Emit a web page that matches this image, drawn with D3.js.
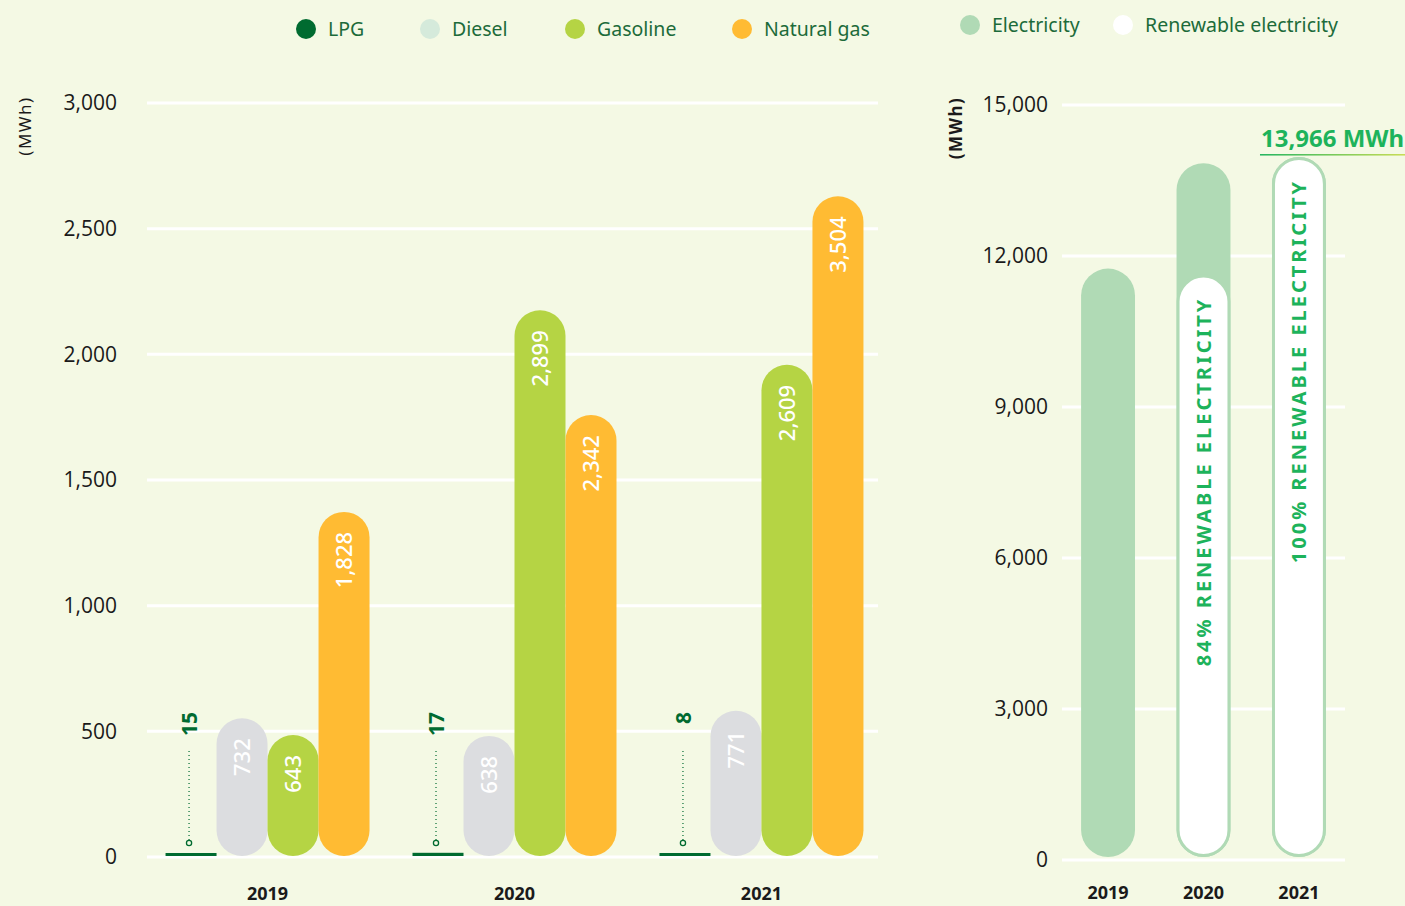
<!DOCTYPE html>
<html>
<head>
<meta charset="utf-8">
<script src="https://cdn.jsdelivr.net/npm/d3@7"></script>
<style>
  body { margin: 0; background: #f4f9e4; }
  svg { display: block; font-family: "Noto Sans", "Open Sans", sans-serif; }
</style>
</head>
<body>
<svg id="chart" width="1405" height="906"></svg>
<script>
// fuel data (MWh)
var years = ["2019", "2020", "2021"];
var fuels = ["LPG", "Diesel", "Gasoline", "Natural gas"];
var lpg = [15, 17, 8];
var diesel = [732, 638, 771];
var gasoline = [643, 2899, 2609];
var naturalGas = [1828, 2342, 3504];
var fuelTicks = [0, 500, 1000, 1500, 2000, 2500, 3000];

// electricity data (MWh)
var electricity = [11750, 13845, 13966];
var renewable = [0, 11630, 13966];
var renewableLabels = ["", "84% RENEWABLE ELECTRICITY", "100% RENEWABLE ELECTRICITY"];
var elecTicks = [0, 3000, 6000, 9000, 12000, 15000];

var fuelColors = { "LPG": "#006b30", "Diesel": "#dcdde0", "Gasoline": "#b5d444", "Natural gas": "#ffbb33" };
var legendColors = { "LPG": "#006b30", "Diesel": "#d5eadb", "Gasoline": "#b5d444", "Natural gas": "#ffbb33" };
var elecColor = "#b0dab5";
var green = "#1db35b";
var textGreen = "#1c6b3a";

var svg = d3.select("#chart");
var fmt = d3.format(",");

// ---------- left chart ----------
var left = { x0: 147, x1: 878, top: 103, bottom: 857 };

var yAxisL = d3.scaleLinear().domain([0, 3000]).range([left.bottom, left.top]);
// bars in the source are drawn on a stretched scale
var yBarL = d3.scaleLinear().domain([0, 4000]).range([left.bottom - 1, left.top]);

var xGroup = d3.scaleBand().domain(years).range([left.x0 + 2, left.x1 + 2])
    .paddingInner(0.174).paddingOuter(0.067);
var xFuel = d3.scaleBand().domain(fuels).range([0, xGroup.bandwidth()]);

var gridL = svg.append("g");
gridL.selectAll("line").data(fuelTicks).enter().append("line")
    .attr("x1", left.x0).attr("x2", left.x1)
    .attr("y1", function(d) { return yAxisL(d); })
    .attr("y2", function(d) { return yAxisL(d); })
    .attr("stroke", "#fff").attr("stroke-width", 3);

var axisL = svg.append("g")
    .attr("transform", "translate(117,0)")
    .call(d3.axisLeft(yAxisL).tickValues(fuelTicks).tickFormat(fmt).tickSize(0).tickPadding(0));
axisL.select(".domain").remove();
axisL.selectAll("text").attr("font-size", 21).attr("fill", "#1a1a1a")
    .attr("font-family", "'Open Sans', sans-serif");

svg.append("text")
    .attr("transform", "translate(31,126) rotate(-90)")
    .attr("text-anchor", "middle")
    .attr("font-size", 17).attr("letter-spacing", 1.5).attr("fill", "#1a1a1a")
    .text("(MWh)");

var rows = [];
years.forEach(function(y, i) {
  rows.push({ year: y, fuel: "LPG", value: lpg[i] });
  rows.push({ year: y, fuel: "Diesel", value: diesel[i] });
  rows.push({ year: y, fuel: "Gasoline", value: gasoline[i] });
  rows.push({ year: y, fuel: "Natural gas", value: naturalGas[i] });
});

var bw = xFuel.bandwidth();
var pills = rows.filter(function(d) { return d.fuel !== "LPG"; });
var lpgRows = rows.filter(function(d) { return d.fuel === "LPG"; });

svg.append("g").selectAll("rect").data(pills).enter().append("rect")
    .attr("x", function(d) { return xGroup(d.year) + xFuel(d.fuel); })
    .attr("y", function(d) { return yBarL(d.value); })
    .attr("width", bw)
    .attr("height", function(d) { return yBarL(0) - yBarL(d.value); })
    .attr("rx", bw / 2)
    .attr("fill", function(d) { return fuelColors[d.fuel]; });

svg.append("g").selectAll("text").data(pills).enter().append("text")
    .attr("transform", function(d) {
      var cx = xGroup(d.year) + xFuel(d.fuel) + bw / 2;
      return "translate(" + cx + "," + (yBarL(d.value) + 20) + ") rotate(-90)";
    })
    .attr("text-anchor", "end").attr("dy", "0.36em")
    .attr("font-size", 22).attr("font-weight", 500).attr("fill", "#fff")
    .text(function(d) { return fmt(d.value); });

// LPG: flat line + pointer + label
var lpgG = svg.append("g").selectAll("g").data(lpgRows).enter().append("g")
    .attr("transform", function(d) { return "translate(" + (xGroup(d.year) + xFuel(d.fuel)) + ",0)"; });
lpgG.append("rect")
    .attr("x", 0).attr("width", bw)
    .attr("y", function(d) { return Math.min(yBarL(d.value), yBarL(0) - 3); })
    .attr("height", function(d) { return Math.max(3, yBarL(0) - yBarL(d.value)); })
    .attr("fill", fuelColors.LPG);
lpgG.append("line")
    .attr("x1", bw / 2 - 2).attr("x2", bw / 2 - 2)
    .attr("y1", yBarL(0) - 16).attr("y2", yBarL(0) - 105)
    .attr("stroke", fuelColors.LPG).attr("stroke-width", 1.2).attr("stroke-dasharray", "1,3");
lpgG.append("circle")
    .attr("cx", bw / 2 - 2).attr("cy", yBarL(0) - 13).attr("r", 2.6)
    .attr("fill", "none").attr("stroke", fuelColors.LPG).attr("stroke-width", 1.3);
lpgG.append("text")
    .attr("transform", "translate(" + (bw / 2 - 2) + "," + (yBarL(0) - 144) + ") rotate(-90)")
    .attr("text-anchor", "end").attr("dy", "0.36em")
    .attr("font-size", 21).attr("font-weight", 700).attr("fill", fuelColors.LPG)
    .text(function(d) { return d.value; });

// x labels
svg.append("g").selectAll("text").data(years).enter().append("text")
    .attr("x", function(d) { return xGroup(d) + xFuel("Gasoline"); })
    .attr("y", 900)
    .attr("text-anchor", "middle").attr("font-size", 18).attr("font-weight", 700).attr("fill", "#1a1a1a")
    .text(function(d) { return d; });

// legend left
var legendX = [306, 430, 575, 742];
var legL = svg.append("g").selectAll("g").data(fuels).enter().append("g")
    .attr("transform", function(d, i) { return "translate(" + legendX[i] + ",29)"; });
legL.append("circle").attr("r", 10).attr("fill", function(d) { return legendColors[d]; });
legL.append("text").attr("x", 22).attr("dy", "0.35em")
    .attr("font-size", 19.5).attr("fill", textGreen).text(function(d) { return d; });

// ---------- right chart ----------
var right = { x0: 1062, x1: 1345, top: 105, bottom: 860 };
var yR = d3.scaleLinear().domain([0, 15000]).range([right.bottom, right.top]);
var xR = d3.scaleBand().domain(years).range([right.x0, right.x1])
    .paddingInner(0.435).paddingOuter(0.2);
var bwR = xR.bandwidth();
var baseR = yR(0) - 3;

svg.append("g").selectAll("line").data(elecTicks).enter().append("line")
    .attr("x1", right.x0).attr("x2", right.x1)
    .attr("y1", function(d) { return yR(d); })
    .attr("y2", function(d) { return yR(d); })
    .attr("stroke", "#fff").attr("stroke-width", 3);

var axisR = svg.append("g")
    .attr("transform", "translate(1048,0)")
    .call(d3.axisLeft(yR).tickValues(elecTicks).tickFormat(fmt).tickSize(0).tickPadding(0));
axisR.select(".domain").remove();
axisR.selectAll("text").attr("font-size", 21).attr("fill", "#1a1a1a")
    .attr("font-family", "'Open Sans', sans-serif");

svg.append("text")
    .attr("transform", "translate(962,128) rotate(-90)")
    .attr("text-anchor", "middle")
    .attr("font-size", 17).attr("font-weight", 700).attr("letter-spacing", 1.5).attr("fill", "#1a1a1a")
    .text("(MWh)");

var elecRows = years.map(function(y, i) {
  return { year: y, total: electricity[i], green: renewable[i], label: renewableLabels[i] };
});

svg.append("g").selectAll("rect").data(elecRows).enter().append("rect")
    .attr("x", function(d) { return xR(d.year); })
    .attr("y", function(d) { return yR(d.total); })
    .attr("width", bwR)
    .attr("height", function(d) { return baseR - yR(d.total); })
    .attr("rx", bwR / 2)
    .attr("fill", elecColor);

var ren = elecRows.filter(function(d) { return d.green > 0; });
svg.append("g").selectAll("rect").data(ren).enter().append("rect")
    .attr("x", function(d) { return xR(d.year) + 1.5; })
    .attr("y", function(d) { return yR(d.green) + 1.5; })
    .attr("width", bwR - 3)
    .attr("height", function(d) { return baseR - yR(d.green) - 3; })
    .attr("rx", (bwR - 3) / 2)
    .attr("fill", "#fff").attr("stroke", elecColor).attr("stroke-width", 3);

svg.append("g").selectAll("text").data(ren).enter().append("text")
    .attr("transform", function(d) {
      return "translate(" + (xR(d.year) + bwR / 2) + "," + (yR(d.green) + 22) + ") rotate(-90)";
    })
    .attr("text-anchor", "end").attr("dy", "0.36em")
    .attr("font-size", 20).attr("font-weight", 700).attr("letter-spacing", 3).attr("fill", green)
    .text(function(d) { return d.label; });

// total label for last year
var last = elecRows[elecRows.length - 1];
var grad = svg.append("defs").append("linearGradient").attr("id", "uline")
    .attr("x1", "0%").attr("x2", "100%");
grad.append("stop").attr("offset", "0%").attr("stop-color", green);
grad.append("stop").attr("offset", "100%").attr("stop-color", "#c8dc50");
svg.append("rect")
    .attr("x", xR(last.year) - 12).attr("y", yR(last.total) - 3)
    .attr("width", 1405 - xR(last.year) + 12).attr("height", 1.5)
    .attr("fill", "url(#uline)");
svg.append("text")
    .attr("x", xR(last.year) - 11).attr("y", yR(last.total) - 10)
    .attr("font-size", 24).attr("font-weight", 700).attr("fill", green)
    .text(fmt(last.total) + " MWh");

svg.append("g").selectAll("text").data(years).enter().append("text")
    .attr("x", function(d) { return xR(d) + bwR / 2; })
    .attr("y", 899)
    .attr("text-anchor", "middle").attr("font-size", 18).attr("font-weight", 700).attr("fill", "#1a1a1a")
    .text(function(d) { return d; });

// legend right
var legRItems = [{ name: "Electricity", color: elecColor }, { name: "Renewable electricity", color: "#fff" }];
var legendXR = [970, 1123];
var legR = svg.append("g").selectAll("g").data(legRItems).enter().append("g")
    .attr("transform", function(d, i) { return "translate(" + legendXR[i] + ",25)"; });
legR.append("circle").attr("r", 10).attr("fill", function(d) { return d.color; });
legR.append("text").attr("x", 22).attr("dy", "0.35em")
    .attr("font-size", 19.5).attr("fill", textGreen).text(function(d) { return d.name; });
</script>
</body>
</html>
